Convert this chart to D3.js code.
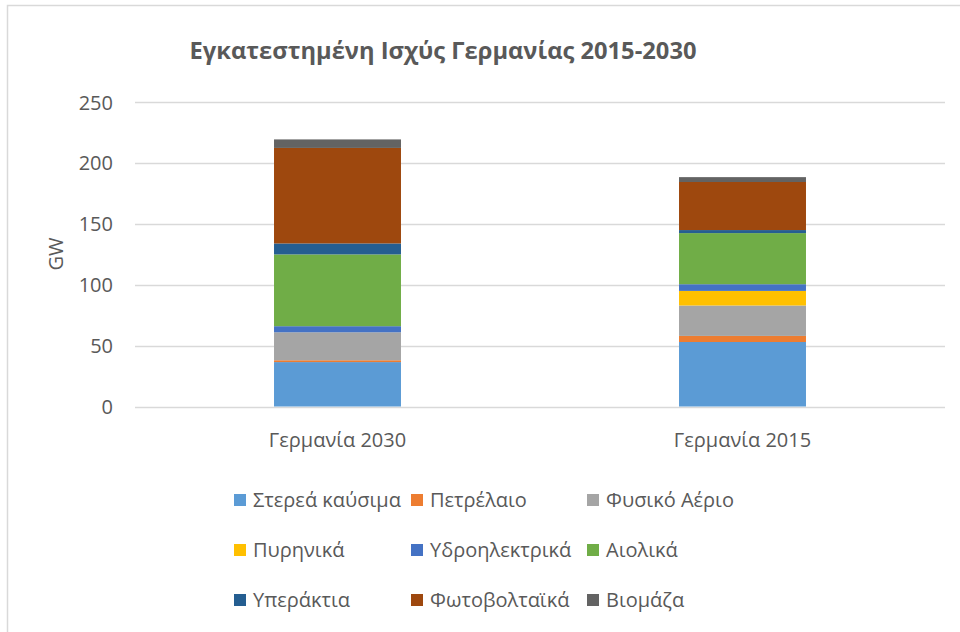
<!DOCTYPE html>
<html>
<head>
<meta charset="utf-8">
<script src="https://cdn.jsdelivr.net/npm/d3@7"></script>
<style>
  body { margin: 0; background: #fff; }
  svg { display: block; font-family: "Open Sans", sans-serif; }
</style>
</head>
<body>
<svg id="chart" width="960" height="632"></svg>
<script>
// categories (left to right as in the picture)
const categories = ["Γερμανία 2030", "Γερμανία 2015"];

// series, bottom to top of the stack
const seriesNames = ["Στερεά καύσιμα", "Πετρέλαιο", "Φυσικό Αέριο", "Πυρηνικά", "Υδροηλεκτρικά",
    "Αιολικά", "Υπεράκτια", "Φωτοβολταϊκά", "Βιομάζα"];

// GW values per series: [2030, 2015]
const solidFuels = [36.5, 53];
const oil = [1.5, 5];
const naturalGas = [23, 25];
const nuclear = [0, 12];
const hydro = [5, 5.5];
const wind = [59, 42];
const offshore = [9, 2.5];
const solar = [78.5, 39.5];
const biomass = [7, 4];

const yTicks = [0, 50, 100, 150, 200, 250];

const colors = ["#5B9BD5", "#ED7D31", "#A5A5A5", "#FFC000", "#4472C4",
    "#70AD47", "#255E91", "#9E480E", "#636363"];

const seriesValues = [solidFuels, oil, naturalGas, nuclear, hydro, wind, offshore, solar, biomass];

const table = categories.map((c, i) => {
    const row = { category: c };
    seriesNames.forEach((s, j) => { row[s] = seriesValues[j][i]; });
    return row;
});

const svg = d3.select("#chart");
const textColor = "#595959";

// chart frame
svg.append("rect")
    .attr("x", 7.5)
    .attr("y", 5.5)
    .attr("width", 1000)
    .attr("height", 700)
    .attr("fill", "none")
    .attr("stroke", "#D9D9D9")
    .attr("stroke-width", 1.5);

const plot = { left: 135, right: 945, top: 102.3, bottom: 406.5 };

const x = d3.scaleBand()
    .domain(categories)
    .range([plot.left, plot.right]);

const y = d3.scaleLinear()
    .domain([0, 250])
    .range([plot.bottom, plot.top]);

// gridlines
svg.append("g")
    .selectAll("line")
    .data(yTicks)
    .enter()
    .append("line")
    .attr("x1", plot.left)
    .attr("x2", plot.right)
    .attr("y1", (d) => Math.round(y(d)) + 0.5)
    .attr("y2", (d) => Math.round(y(d)) + 0.5)
    .attr("stroke", "#D9D9D9")
    .attr("stroke-width", 1.3);

// y tick labels
svg.append("g")
    .selectAll("text")
    .data(yTicks)
    .enter()
    .append("text")
    .attr("x", 113)
    .attr("y", (d) => y(d))
    .attr("dy", "0.36em")
    .attr("text-anchor", "end")
    .attr("fill", textColor)
    .style("font-size", "20px")
    .text((d) => d);

// stacked bars
const stack = d3.stack().keys(seriesNames);
const layers = stack(table);
const barWidth = x.bandwidth() / 3.19;

svg.append("g")
    .selectAll("g")
    .data(layers)
    .enter()
    .append("g")
    .attr("fill", (d, i) => colors[i])
    .selectAll("rect")
    .data((d) => d)
    .enter()
    .append("rect")
    .attr("x", (d) => x(d.data.category) + (x.bandwidth() - barWidth) / 2)
    .attr("y", (d) => y(d[1]))
    .attr("width", barWidth)
    .attr("height", (d) => y(d[0]) - y(d[1]));

// category labels
svg.append("g")
    .selectAll("text")
    .data(categories)
    .enter()
    .append("text")
    .attr("x", (d) => x(d) + x.bandwidth() / 2)
    .attr("y", 447)
    .attr("text-anchor", "middle")
    .attr("fill", textColor)
    .style("font-size", "20px")
    .text((d) => d);

// y axis title
svg.append("text")
    .attr("transform", "translate(63, 254) rotate(-90)")
    .attr("text-anchor", "middle")
    .attr("fill", textColor)
    .style("font-size", "20px")
    .text("GW");

// title
svg.append("text")
    .attr("x", 443)
    .attr("y", 59)
    .attr("text-anchor", "middle")
    .attr("fill", textColor)
    .style("font-size", "24px")
    .style("font-weight", "bold")
    .attr("textLength", 507)
    .attr("lengthAdjust", "spacingAndGlyphs")
    .text("Εγκατεστημένη Ισχύς Γερμανίας 2015-2030");

// legend, 3 columns x 3 rows
const legendCols = [234, 411, 587];
const legendRows = [500, 550, 600];

const legend = svg.append("g")
    .selectAll("g")
    .data(seriesNames)
    .enter()
    .append("g")
    .attr("transform", (d, i) => `translate(${legendCols[i % 3]}, ${legendRows[Math.floor(i / 3)]})`);

legend.append("rect")
    .attr("x", 0)
    .attr("y", -6)
    .attr("width", 12)
    .attr("height", 12)
    .attr("fill", (d, i) => colors[i]);

legend.append("text")
    .attr("x", 19)
    .attr("y", 0)
    .attr("dy", "0.36em")
    .attr("fill", textColor)
    .style("font-size", "20px")
    .text((d) => d);
</script>
</body>
</html>
